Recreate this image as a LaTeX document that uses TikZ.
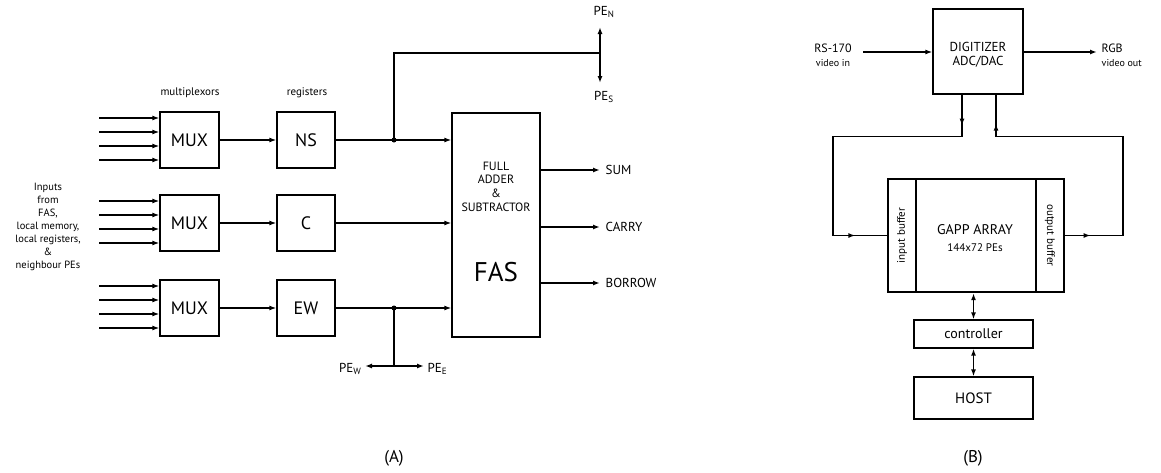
\documentclass[tikz,border=0pt]{standalone}
\usepackage{fontspec}
\setmainfont{PT Sans}
\usetikzlibrary{arrows.meta,decorations.markings,calc}
\begin{document}
\begin{tikzpicture}[x=1pt,y=-1pt,line width=1.4pt,
 >={Latex[length=7pt,width=5pt]},
 blk/.style={draw,line width=1.3pt,inner sep=0pt,align=center},
 lbl/.style={inner sep=0pt,align=center},
 jdot/.style={circle,fill,inner sep=0pt,minimum size=5pt},
 bigf/.style={font=\fontsize{18}{21}\selectfont},
 midf/.style={font=\fontsize{13}{15}\selectfont},
 smlf/.style={font=\fontsize{11}{13}\selectfont},
 twomarks/.style n args={2}{postaction={decorate},decoration={markings,
   mark=at position #1 with {\arrow{Latex[length=7pt,width=5pt]}},
   mark=at position #2 with {\arrow{Latex[length=7pt,width=5pt]}}}}]
\useasboundingbox (0,0) rectangle (1161,472);

% ---------------- (A) ----------------
\node[lbl,smlf] (lmux) at (190,93) {multiplexors};
\node[lbl,smlf] (lreg) at (307,93) {registers};

\node[blk,bigf,minimum width=59pt,minimum height=56pt] (mux1) at (189.5,140) {MUX};
\node[blk,bigf,minimum width=59pt,minimum height=56pt] (mux2) at (189.5,223) {MUX};
\node[blk,bigf,minimum width=59pt,minimum height=56pt] (mux3) at (189.5,308) {MUX};

\node[blk,bigf,minimum width=58pt,minimum height=56pt] (ns) at (306,140) {NS};
\node[blk,bigf,minimum width=58pt,minimum height=56pt] (cr) at (306,223) {C};
\node[blk,bigf,minimum width=58pt,minimum height=56pt] (ew) at (306,308) {EW};

\foreach \r in {1,2,3}
  \foreach \d [count=\i] in {-22,-8,6,20} {
    \coordinate (in\r\i) at ($(mux\r.west)+(-60,\d)$);
    \draw[->] (in\r\i) -- (in\r\i -| mux\r.west);
  }

\node[lbl,font=\fontsize{10.5}{13}\selectfont] (inputs) at (48,227)
  {Inputs\\from\\FAS,\\local memory,\\local registers,\\\&\\neighbour PEs};

\draw[->] (mux1) -- (ns);
\draw[->] (mux2) -- (cr);
\draw[->] (mux3) -- (ew);

\node[blk,minimum width=88pt,minimum height=224pt] (fas) at (496,225) {};
\node[lbl,font=\fontsize{12}{13.7}\selectfont] (fastxt) at (496,186.5)
  {FULL\\ADDER\\\&\\SUBTRACTOR};
\node[lbl,font=\fontsize{27}{30}\selectfont] (fasname) at (496,272) {FAS};

\draw[->] (ns) -- (ns -| fas.west);
\draw[->] (cr) -- (cr -| fas.west);
\draw[->] (ew) -- (ew -| fas.west);

\node[jdot] (j1) at (394,140) {};
\node[jdot] (j2) at (394,308) {};

\coordinate (tl) at (394,53);
\coordinate (tr) at (600,53);
\coordinate (pnN) at (600,27);
\coordinate (pnS) at (600,83);
\draw (j1.center) -- (tl) -- (tr);
\draw[->] (tr) -- (pnN);
\draw[->] (tr) -- (pnS);
\node[lbl,midf] (pen) at (604,12) {PE\textsubscript{N}};
\node[lbl,midf] (pes) at (604,97) {PE\textsubscript{S}};

\coordinate (jb) at (394,366);
\coordinate (pwA) at (365,366);
\coordinate (peA) at (424,366);
\draw (j2.center) -- (jb);
\draw[->] (jb) -- (pwA);
\draw[->] (jb) -- (peA);
\node[lbl,midf,anchor=east] (pew) at (362,369) {PE\textsubscript{W}};
\node[lbl,midf,anchor=west] (pee) at (427,369) {PE\textsubscript{E}};

\node[lbl,midf,anchor=west] (sum) at (605,170) {SUM};
\node[lbl,midf,anchor=west] (carry) at (605,227) {CARRY};
\node[lbl,midf,anchor=west] (borrow) at (605,283) {BORROW};
\draw[->] (fas.east |- sum.west) -- ([xshift=-5pt]sum.west);
\draw[->] (fas.east |- carry.west) -- ([xshift=-5pt]carry.west);
\draw[->] (fas.east |- borrow.west) -- ([xshift=-5pt]borrow.west);

\node[lbl,font=\fontsize{17}{20}\selectfont] (capA) at (394,458) {(A)};

% ---------------- (B) ----------------
\node[blk,minimum width=90pt,minimum height=85pt] (dig) at (978,51.5) {};
\node[lbl,font=\fontsize{13}{14}\selectfont] (digtxt) at (978,55) {DIGITIZER\\ADC/DAC};

\node[lbl,font=\fontsize{12}{14}\selectfont] (rs) at (833,55)
  {RS-170\\{\fontsize{10}{14}\selectfont video in}};
\coordinate (rsout) at (863,52);
\draw[->] (rsout) -- (rsout -| dig.west);

\node[lbl,font=\fontsize{12}{14}\selectfont,anchor=west,align=left] (rgb) at (1101,55)
  {RGB\\{\fontsize{10}{14}\selectfont video out}};
\coordinate (rgbin) at (1097,52);
\draw[->] (rgbin -| dig.east) -- (rgbin);

\node[blk,minimum width=28pt,minimum height=113pt] (inbuf) at (902,235.5) {};
\node[blk,line width=2.3pt,minimum width=120pt,minimum height=113pt] (gapp) at (976,235.5) {};
\node[blk,minimum width=28pt,minimum height=113pt] (outbuf) at (1050,235.5) {};
\node[lbl,smlf,rotate=90] (inbuftxt) at (inbuf) {input buffer};
\node[lbl,smlf,rotate=-90] (outbuftxt) at (outbuf) {output buffer};
\node[lbl,font=\fontsize{14}{17}\selectfont] (gapptxt) at (975,238)
  {GAPP ARRAY\\{\fontsize{11}{17}\selectfont 144x72 PEs}};

\node[blk,font=\fontsize{14}{16}\selectfont,minimum width=119pt,minimum height=28pt] (ctrl) at (973.5,334) {controller};
\node[blk,font=\fontsize{15}{17}\selectfont,minimum width=119pt,minimum height=42pt] (host) at (973.5,398) {HOST};

\draw[<->] (ctrl.north) -- (ctrl.north |- gapp.south);
\draw[<->] (host.north) -- (ctrl.south);

\coordinate (dl) at ($(dig.south)+(-16,0)$);
\coordinate (dr) at ($(dig.south)+(18,0)$);
\coordinate (lx) at (833,235.5);
\coordinate (rx) at (1123,235.5);
\draw[twomarks={31pt}{-32pt}] (dl) -- ++(0,42) -| (lx) -- (inbuf.west);
\draw[twomarks={26pt}{-29pt}] (outbuf.east) -- (rx) |- ($(dr)+(0,42)$) -- (dr);

\node[lbl,font=\fontsize{17}{20}\selectfont] (capB) at (973,458) {(B)};
\end{tikzpicture}
\end{document}
